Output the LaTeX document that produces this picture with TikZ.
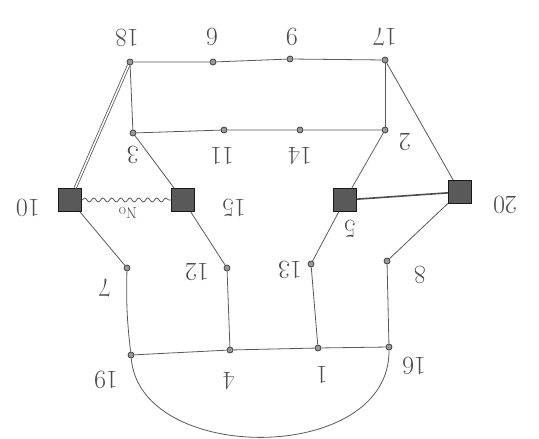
\documentclass[tikz,border=0pt]{standalone}
\usetikzlibrary{decorations.pathmorphing}
\begin{document}
\begin{tikzpicture}[x=1pt,y=-1pt,
  pencil/.style={draw=black!65,line width=0.8pt},
  dot/.style={circle,draw=black!75,fill=black!40,inner sep=0pt,minimum size=6pt,line width=0.8pt},
  sq/.style={rectangle,draw=black!90,fill=black!65,inner sep=0pt,minimum size=23pt,line width=1pt},
  lab/.style={rotate=180,font=\fontsize{26}{28}\selectfont,text=black!70,inner sep=0pt},
  smalllab/.style={rotate=180,font=\fontsize{16}{18}\selectfont,text=black!70,inner sep=0pt}]
\useasboundingbox (0,0) rectangle (539,439);
% nodes
\node[dot] (n18) at (130,62) {};
\node[dot] (n6) at (213,62) {};
\node[dot] (n9) at (290,59) {};
\node[dot] (n17) at (385,60) {};
\node[dot] (n3) at (133,133) {};
\node[dot] (n11) at (224,130) {};
\node[dot] (n14) at (300,130) {};
\node[dot] (n2) at (385,130) {};
\node[sq] (n10) at (70,200) {};
\node[sq] (n15) at (183,200) {};
\node[sq] (n5) at (345,200) {};
\node[sq] (n20) at (460,192) {};
\node[dot] (n7) at (127,268) {};
\node[dot] (n12) at (227,268) {};
\node[dot] (n13) at (311,264) {};
\node[dot] (n8) at (387,261) {};
\node[dot] (n19) at (131,355) {};
\node[dot] (n4) at (230,350) {};
\node[dot] (n1) at (318,348) {};
\node[dot] (n16) at (389,347) {};
% labels
\node[lab] (l18) at (127,38) {18};
\node[lab] (l6) at (212,37) {6};
\node[lab] (l9) at (292,37) {9};
\node[lab] (l17) at (385,37) {17};
\node[lab] (l3) at (133,155) {3};
\node[lab] (l11) at (222,156) {11};
\node[lab] (l14) at (300,156) {14};
\node[lab] (l2) at (405,142) {2};
\node[lab] (l10) at (28,208) {10};
\node[lab] (l15) at (234,208) {15};
\node[lab] (l5) at (350,229) {5};
\node[lab] (l20) at (505,205) {20};
\node[lab] (l7) at (105,288) {7};
\node[lab] (l12) at (197,272) {12};
\node[lab] (l13) at (290,270) {13};
\node[lab] (l8) at (420,275) {8};
\node[lab] (l19) at (106,380) {19};
\node[lab] (l4) at (229,381) {4};
\node[lab] (l1) at (322,375) {1};
\node[lab] (l16) at (414,366) {16};
\node[smalllab] (lno) at (128,213) {No};
% edges
\begin{scope}[pencil]
\draw (n18) -- (n6) -- (n9) -- (n17);
\draw (n3) -- (n11) -- (n14) -- (n2);
\draw (n18) -- (n3);
\draw (n17) -- (n2);
\draw[double=white,double distance=1.5pt] (n18) -- (n10);
\draw (n3) -- (n15);
\draw (n2) -- (n5);
\draw (n17) -- (n20);
\draw[decorate,decoration={snake,amplitude=2pt,segment length=9pt}] (n10) -- (n15);
\draw[line width=1.6pt,draw=black!70] (n5) -- (n20);
\draw (n10) -- (n7);
\draw (n15) -- (n12);
\draw (n5) -- (n13);
\draw (n20) -- (n8);
\draw (n7) to[bend right=4] (n19);
\draw (n12) -- (n4);
\draw (n13) -- (n1);
\draw (n8) -- (n16);
\draw (n19) -- (n4) -- (n1) -- (n16);
\draw (n19) .. controls (140,465) and (390,465) .. (n16);
\end{scope}
\end{tikzpicture}
\end{document}
